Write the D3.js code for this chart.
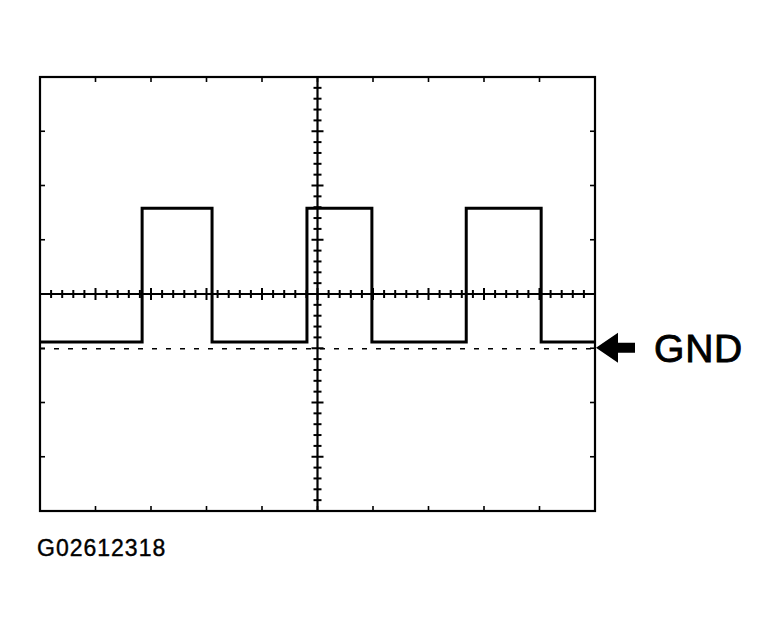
<!DOCTYPE html>
<html lang="en">
<head>
<meta charset="utf-8">
<title>G02612318</title>
<style>
  body { margin: 0; background: #fff; overflow: hidden; }
  svg { display: block; }
  text { font-family: 'Liberation Sans', Arial, sans-serif; fill: #000; }
</style>
</head>
<body>
<svg id="chart" width="781" height="632"></svg>
<script src="https://cdnjs.cloudflare.com/ajax/libs/d3/7.8.5/d3.min.js"></script>
<script>
// screen grid in divisions
var xDivs = [-5, 5],
    yDivs = [-4, 4];

// square wave: edge times (divisions) and levels
var edgeTimes = [-3.16, -1.9, -0.19, 0.98, 2.68, 4.03],
    highLevel = 1.58,
    lowLevel = -0.885,
    gndLevel = -1.01;

var gndLabel = 'GND',
    figLabel = 'G02612318';

var svg = d3.select('#chart'),
    x = d3.scaleLinear().domain(xDivs).range([40, 595]),
    y = d3.scaleLinear().domain(yDivs).range([511, 77]);

var majorX = d3.range(xDivs[0], xDivs[1] + 0.001, 1),
    majorY = d3.range(yDivs[0], yDivs[1] + 0.001, 1),
    minorX = d3.range(xDivs[0], xDivs[1] + 0.001, 0.2),
    minorY = d3.range(yDivs[0], yDivs[1] + 0.001, 0.2);

// frame
svg.append('rect')
  .attr('x', x(xDivs[0])).attr('y', y(yDivs[1]))
  .attr('width', x(xDivs[1]) - x(xDivs[0]))
  .attr('height', y(yDivs[0]) - y(yDivs[1]))
  .attr('fill', 'none').attr('stroke', '#000').attr('stroke-width', 2.2);

// major ticks on the frame edges
var g = svg.append('g').attr('stroke', '#000').attr('stroke-width', 1.6);
majorX.slice(1, -1).forEach(function (d) {
  g.append('line').attr('x1', x(d)).attr('x2', x(d)).attr('y1', y(4)).attr('y2', y(4) + 5);
  g.append('line').attr('x1', x(d)).attr('x2', x(d)).attr('y1', y(-4)).attr('y2', y(-4) - 5);
});
majorY.slice(1, -1).forEach(function (d) {
  g.append('line').attr('y1', y(d)).attr('y2', y(d)).attr('x1', x(-5)).attr('x2', x(-5) + 5);
  g.append('line').attr('y1', y(d)).attr('y2', y(d)).attr('x1', x(5)).attr('x2', x(5) - 5);
});

// centre axes
svg.append('line').attr('x1', x(-5)).attr('x2', x(5)).attr('y1', y(0)).attr('y2', y(0))
  .attr('stroke', '#000').attr('stroke-width', 2.2);
svg.append('line').attr('x1', x(0)).attr('x2', x(0)).attr('y1', y(-4)).attr('y2', y(4))
  .attr('stroke', '#000').attr('stroke-width', 2.2);

var t = svg.append('g').attr('stroke', '#000').attr('stroke-width', 2);
minorX.forEach(function (d) {
  var h = Math.abs(d - Math.round(d)) < 0.01 ? 6 : 4;
  t.append('line').attr('x1', x(d)).attr('x2', x(d)).attr('y1', y(0) - h).attr('y2', y(0) + h);
});
minorY.forEach(function (d) {
  var h = Math.abs(d - Math.round(d)) < 0.01 ? 6 : 4;
  t.append('line').attr('y1', y(d)).attr('y2', y(d)).attr('x1', x(0) - h).attr('x2', x(0) + h);
});

// ground reference (dashed)
svg.append('line')
  .attr('x1', x(-5)).attr('x2', x(5)).attr('y1', y(gndLevel)).attr('y2', y(gndLevel))
  .attr('stroke', '#000').attr('stroke-width', 1.4).attr('stroke-dasharray', '5,9');

// waveform
var pts = [[xDivs[0], lowLevel]], level = lowLevel;
edgeTimes.forEach(function (e) {
  pts.push([e, level]);
  level = level === lowLevel ? highLevel : lowLevel;
  pts.push([e, level]);
});
pts.push([xDivs[1], level]);

svg.append('path')
  .attr('d', d3.line().x(function (d) { return x(d[0]); }).y(function (d) { return y(d[1]); })(pts))
  .attr('fill', 'none').attr('stroke', '#000').attr('stroke-width', 3).attr('stroke-linejoin', 'miter');

// GND arrow + label
var ay = y(gndLevel) - 1, ax = x(5) + 1;
svg.append('path')
  .attr('d', 'M' + ax + ',' + ay + 'l22,-15l0,10l17,0l0,10l-17,0l0,10z')
  .attr('fill', '#000');
svg.append('text').attr('x', 654).attr('y', 362).attr('font-size', 39)
  .attr('letter-spacing', 0.8)
  .attr('stroke', '#000').attr('stroke-width', 0.9).text(gndLabel);

svg.append('text').attr('x', 37).attr('y', 556).attr('font-size', 23)
  .attr('letter-spacing', 1).attr('stroke', '#000').attr('stroke-width', 0.4).text(figLabel);
</script>
</body>
</html>
